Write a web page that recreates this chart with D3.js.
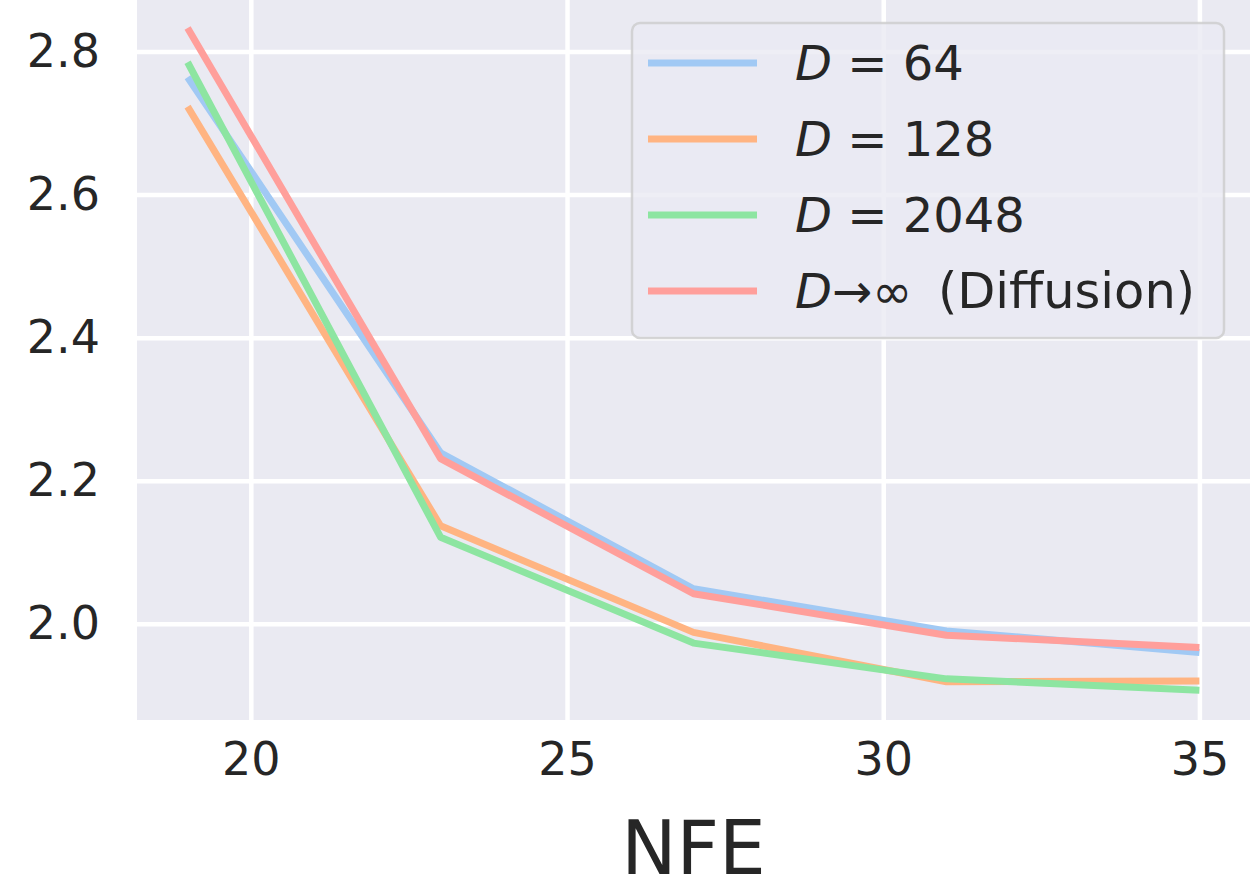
<!DOCTYPE html>
<html>
<head>
<meta charset="utf-8">
<script src="https://cdn.jsdelivr.net/npm/d3@7/dist/d3.min.js"></script>
<style>
  html, body { margin: 0; padding: 0; background: #ffffff; }
  svg { display: block; }
  text { font-family: "DejaVu Sans", sans-serif; fill: #262626; }
</style>
</head>
<body>
<svg id="chart" width="1255" height="893"></svg>
<script>
// NFE values on the x axis
const nfe = [19, 23, 27, 31, 35];

// FID per series
const d64   = [2.764, 2.239, 2.049, 1.990, 1.960];
const d128  = [2.723, 2.137, 1.988, 1.919, 1.920];
const d2048 = [2.785, 2.121, 1.973, 1.923, 1.907];
const dInf  = [2.833, 2.231, 2.042, 1.984, 1.967];

const seriesNames = ["D = 64", "D = 128", "D = 2048", "D→∞ (Diffusion)"];
const seriesColors = ["#a1c9f4", "#ffb482", "#8de5a1", "#ff9f9b"];

const xTicks = [20, 25, 30, 35];
const yTicks = [2.0, 2.2, 2.4, 2.6, 2.8];

const series = [d64, d128, d2048, dInf].map((vals, i) => ({
  name: seriesNames[i],
  color: seriesColors[i],
  points: nfe.map((n, j) => [n, vals[j]])
}));

const svg = d3.select("#chart");
const plot = { left: 137, right: 1250, top: 0, bottom: 720 };

const x = d3.scaleLinear().domain([18.2, 35.8]).range([plot.left, plot.right]);
const y = d3.scaleLinear().domain([1.8655, 2.872]).range([plot.bottom, plot.top]);

// Axes background
svg.append("rect")
  .attr("x", plot.left).attr("y", plot.top)
  .attr("width", plot.right - plot.left)
  .attr("height", plot.bottom - plot.top)
  .attr("fill", "#eaeaf2");

// Grid lines and tick labels
const xAxis = d3.axisBottom(x).tickValues(xTicks)
  .tickSize(-(plot.bottom - plot.top)).tickPadding(22)
  .tickFormat(d3.format("d"));
const gx = svg.append("g").attr("transform", `translate(0,${plot.bottom})`).call(xAxis);
gx.select(".domain").remove();
gx.selectAll(".tick line").attr("stroke", "#ffffff").attr("stroke-width", 4.5);
gx.selectAll(".tick text")
  .attr("font-size", 46).attr("fill", "#262626")
  .attr("font-family", "DejaVu Sans, sans-serif")
  .attr("dy", "0.71em");

const yAxis = d3.axisLeft(y).tickValues(yTicks)
  .tickSize(-(plot.right - plot.left)).tickPadding(37)
  .tickFormat(d3.format(".1f"));
const gy = svg.append("g").attr("transform", `translate(${plot.left},0)`).call(yAxis);
gy.select(".domain").remove();
gy.selectAll(".tick line").attr("stroke", "#ffffff").attr("stroke-width", 4.5);
gy.selectAll(".tick text")
  .attr("font-size", 46).attr("fill", "#262626")
  .attr("font-family", "DejaVu Sans, sans-serif");

// Series lines
const line = d3.line().x(d => x(d[0])).y(d => y(d[1]));
svg.append("clipPath").attr("id", "plot-clip")
  .append("rect")
  .attr("x", plot.left).attr("y", plot.top)
  .attr("width", plot.right - plot.left)
  .attr("height", plot.bottom - plot.top);

svg.append("g").attr("clip-path", "url(#plot-clip)")
  .selectAll("path")
  .data(series)
  .join("path")
  .attr("d", d => line(d.points))
  .attr("fill", "none")
  .attr("stroke", d => d.color)
  .attr("stroke-width", 7)
  .attr("stroke-linejoin", "round")
  .attr("stroke-linecap", "butt");

// X axis title
svg.append("text")
  .attr("x", (plot.left + plot.right) / 2)
  .attr("y", 874)
  .attr("text-anchor", "middle")
  .attr("font-size", 74)
  .text("NFE");

// Legend
const legend = svg.append("g");
legend.append("rect")
  .attr("x", 632).attr("y", 23)
  .attr("width", 592).attr("height", 315)
  .attr("rx", 8).attr("ry", 8)
  .attr("fill", "#eaeaf2").attr("fill-opacity", 0.8)
  .attr("stroke", "#cccccc").attr("stroke-opacity", 0.8)
  .attr("stroke-width", 2.5);

const rowY = d3.scaleLinear().domain([0, 3]).range([63, 291]);
const rows = legend.selectAll("g.row")
  .data(series)
  .join("g")
  .attr("class", "row")
  .attr("transform", (d, i) => `translate(0,${rowY(i)})`);

rows.append("line")
  .attr("x1", 648).attr("x2", 757)
  .attr("y1", 0).attr("y2", 0)
  .attr("stroke", d => d.color)
  .attr("stroke-width", 7);

rows.append("text")
  .attr("x", 795).attr("y", 17)
  .attr("font-size", 48)
  .each(function(d) {
    const t = d3.select(this);
    t.append("tspan").attr("font-style", "italic").text("D");
    const rest = d.name.slice(1);
    const k = rest.indexOf(" (");
    if (k >= 0) {
      t.append("tspan").text(rest.slice(0, k));
      t.append("tspan").attr("dx", 10).attr("font-size", 49.5).text(rest.slice(k));
    } else {
      t.append("tspan").text(rest);
    }
  });
</script>
</body>
</html>
